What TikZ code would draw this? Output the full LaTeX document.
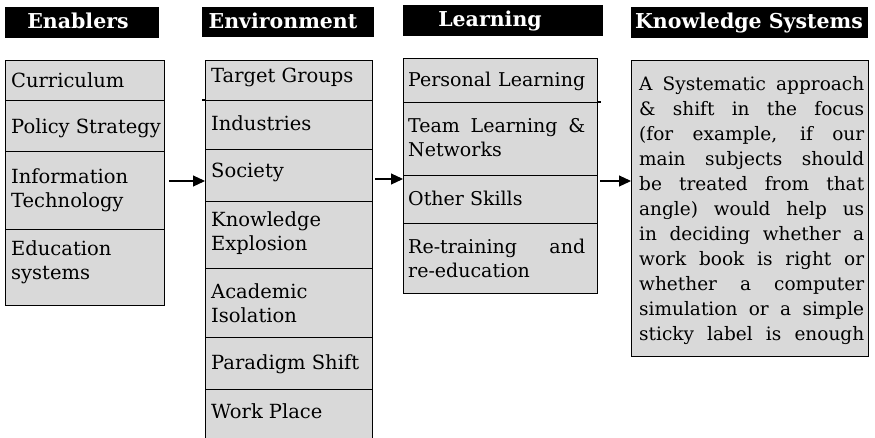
\documentclass[tikz,border=0pt]{standalone}
\usepackage{fontspec}
\setmainfont{DejaVu Serif}
\usetikzlibrary{arrows.meta}
\definecolor{cellfill}{RGB}{217,217,217}
\tikzset{
  cell/.style={draw=black, line width=1.1pt, fill=cellfill, rectangle, inner sep=0pt, anchor=north west},
  headbox/.style={fill=black, rectangle, inner sep=0pt, anchor=north west},
  headtxt/.style={text=white, inner sep=0pt, anchor=base, font=\bfseries\fontsize{20.5}{22}\selectfont},
  txt/.style={anchor=base west, inner sep=0pt, align=left, font=\fontsize{19.5}{24}\selectfont},
  ltxt/.style={anchor=base west, inner sep=0pt, align=left, font=\fontsize{19}{24}\selectfont},
  ktxt/.style={anchor=base west, inner sep=0pt, align=left, font=\fontsize{18.5}{25}\selectfont},
  arr/.style={line width=1.1pt, -{Triangle[length=12pt,width=11pt]}},
}
\newcommand\mkcell[5]{\node[cell,minimum width=#4pt,minimum height=#5pt] (#1) at (#2,#3) {};}
\newcommand\mkhead[5]{\node[headbox,minimum width=#4pt,minimum height=#5pt] (#1) at (#2,#3) {};}
\begin{document}
\begin{tikzpicture}[x=1pt,y=-1pt]
\useasboundingbox (0,0) rectangle (875,437);
\clip (0,0) rectangle (875,437);
% headers
\mkhead{h1}{5}{7}{154}{31}
\mkhead{h2}{202}{7}{172}{30}
\mkhead{h3}{403}{5}{200}{31}
\mkhead{h4}{631}{7}{237}{31}
\node[headtxt] (h1t) at (78,28) {Enablers};
\node[headtxt] (h2t) at (283,28) {Environment};
\node[headtxt] (h3t) at (490,26) {Learning};
\node[headtxt] (h4t) at (749,28) {Knowledge Systems};
% Enablers
\mkcell{e1}{5}{60}{159}{40}
\mkcell{e2}{5}{100}{159}{51}
\mkcell{e3}{5}{151}{159}{78}
\mkcell{e4}{5}{229}{159}{76}
\node[txt] (e1t) at (11,87) {Curriculum};
\node[txt] (e2t) at (11,133) {Policy Strategy};
\node[txt] (e3t) at (11,207) {Information\\Technology};
\node[txt] (e4t) at (11,279) {Education\\systems};
% Environment
\mkcell{v1}{205}{60}{167}{40}
\mkcell{v2}{205}{100}{167}{49}
\mkcell{v3}{205}{149}{167}{52}
\mkcell{v4}{205}{201}{167}{67}
\mkcell{v5}{205}{268}{167}{69}
\mkcell{v6}{205}{337}{167}{52}
\mkcell{v7}{205}{389}{167}{60}
\draw[line width=1.1pt] (v2.north west) -- ++(-3,0);
\node[txt] (v1t) at (211,82) {Target Groups};
\node[txt] (v2t) at (211,130) {Industries};
\node[txt] (v3t) at (211,177) {Society};
\node[txt] (v4t) at (211,250) {Knowledge\\Explosion};
\node[txt] (v5t) at (211,322) {Academic\\Isolation};
\node[txt] (v6t) at (211,369) {Paradigm Shift};
\node[txt] (v7t) at (211,418) {Work Place};
% Learning
\mkcell{l1}{403}{58}{194}{44}
\mkcell{l2}{403}{102}{194}{73}
\mkcell{l3}{403}{175}{194}{48}
\mkcell{l4}{403}{223}{194}{70}
\draw[line width=1.1pt] (l2.north east) -- ++(3,0);
\node[ltxt] (l1t) at (408,86) {\makebox[177pt][s]{Personal Learning}};
\node[ltxt] (l2t) at (408,156) {\makebox[177pt][s]{Team Learning \&}\\Networks};
\node[ltxt] (l3t) at (408,205) {Other Skills};
\node[ltxt] (l4t) at (408,277) {\makebox[177pt][s]{Re-training and}\\re-education};
% Knowledge Systems
\mkcell{k1}{631}{60}{237}{296}
\node[ktxt] (k1t) at (639,340) {%
\makebox[225pt][s]{A Systematic approach}\\
\makebox[225pt][s]{\& shift in the focus}\\
\makebox[225pt][s]{(for example, if our}\\
\makebox[225pt][s]{main subjects should}\\
\makebox[225pt][s]{be treated from that}\\
\makebox[225pt][s]{angle) would help us}\\
\makebox[225pt][s]{in deciding whether a}\\
\makebox[225pt][s]{work book is right or}\\
\makebox[225pt][s]{whether a computer}\\
\makebox[225pt][s]{simulation or a simple}\\
\makebox[225pt][s]{sticky label is enough}};
% arrows
\coordinate (a1s) at (169,181);
\coordinate (a2s) at (375,179);
\coordinate (a3s) at (600,181);
\draw[arr] (a1s) -- (a1s -| v3.west) ;
\draw[arr] (a2s) -- (a2s -| l3.west);
\draw[arr] (a3s) -- (a3s -| k1.west);
\end{tikzpicture}
\end{document}
